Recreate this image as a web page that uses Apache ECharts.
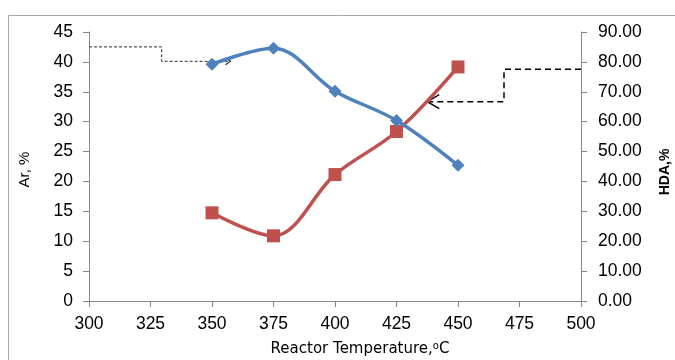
<!DOCTYPE html>
<html><head><meta charset="utf-8">
<script src="https://cdn.jsdelivr.net/npm/echarts@6/dist/echarts.min.js"></script>
<style>html,body{margin:0;padding:0;background:#fff}#c{width:675px;height:360px}</style>
</head><body><div id="c"></div>
<script>
// Data
const temperatures = [350, 375, 400, 425, 450];
const arValues = [39.6, 42.3, 35.1, 30.2, 22.7];
const hdaValues = [29.5, 21.8, 42.3, 56.7, 78.3];
const xTicks = [300, 325, 350, 375, 400, 425, 450, 475, 500];
// Annotation arrows (data coordinates)
const arArrowPath = [[300, 42.5], [329.5, 42.5], [329.5, 40.1], [357.5, 40.1]];
const hdaArrowPath = [[500, 77.5], [468.7, 77.5], [468.7, 66.7], [438.5, 66.7]];
const hdaArrowTip = [437.5, 66.7];

const chart = echarts.init(document.getElementById('c'), null, {renderer: 'canvas'});
const pair = (xs, ys) => xs.map((x, i) => [x, ys[i]]);
const axisCol = '#868686';
const labelFont = {fontFamily: 'Liberation Sans', fontSize: 17.5, color: '#000'};

function arrowHead(yAxisIndex, tip, dir, w, h, color, lw) {
  return {
    type: 'custom', yAxisIndex: yAxisIndex, data: [tip], z: 1, silent: true,
    renderItem: function (params, api) {
      const p = api.coord([api.value(0), api.value(1)]);
      return {
        type: 'polyline',
        shape: {points: [[p[0] + dir * w, p[1] - h], [p[0], p[1]], [p[0] + dir * w, p[1] + h]]},
        style: {stroke: color, lineWidth: lw, fill: 'none'}
      };
    }
  };
}

chart.setOption({
  animation: false,
  graphic: [{
    type: 'rect', shape: {x: 8.5, y: 15.5, width: 700, height: 400},
    style: {fill: 'none', stroke: '#a6a6a6', lineWidth: 1}, silent: true
  }],
  grid: {left: 89, right: 94, top: 32, bottom: 59, outerBoundsMode: 'none', containLabel: false},
  xAxis: {
    type: 'value', min: 300, max: 500, interval: 25,
    name: 'Reactor Temperature,{sup|o}C', nameLocation: 'middle', nameGap: 40,
    nameTextStyle: {fontFamily: 'DejaVu Sans', fontSize: 15, color: '#000', padding: [0, 0, 0, 50],
      rich: {sup: {fontFamily: 'DejaVu Sans', fontSize: 10, verticalAlign: 'top', padding: [0, 0, 7, 0]}}},
    axisLine: {lineStyle: {color: axisCol}}, axisTick: {show: true, length: 6, lineStyle: {color: axisCol}},
    splitLine: {show: false},
    axisLabel: Object.assign({margin: 14, formatter: v => xTicks.includes(v) ? String(v) : ''}, labelFont)
  },
  yAxis: [{
    type: 'value', min: 0, max: 45, interval: 5, position: 'left',
    name: 'Ar, %', nameLocation: 'middle', nameGap: 57, nameRotate: 90,
    nameTextStyle: {fontFamily: 'Liberation Sans', fontSize: 15, color: '#000', padding: [0, 6, 0, 0]},
    axisLine: {show: true, lineStyle: {color: axisCol}}, axisTick: {show: true, length: 6, lineStyle: {color: axisCol}},
    splitLine: {show: false},
    axisLabel: Object.assign({margin: 16}, labelFont)
  }, {
    type: 'value', min: 0, max: 90, interval: 10, position: 'right',
    name: 'HDA,%', nameLocation: 'middle', nameGap: 77, nameRotate: 90,
    nameTextStyle: {fontFamily: 'Liberation Sans', fontSize: 14, fontWeight: 'bold', color: '#000', padding: [0, 11, 0, 0]},
    axisLine: {show: true, lineStyle: {color: axisCol}}, axisTick: {show: true, length: 6, lineStyle: {color: axisCol}},
    splitLine: {show: false},
    axisLabel: Object.assign({margin: 17, formatter: v => v.toFixed(2)}, labelFont)
  }],
  series: [
    {
      type: 'line', yAxisIndex: 0, data: arArrowPath, symbol: 'none', z: 1,
      lineStyle: {color: '#555', width: 1.3, type: [3, 2]}
    },
    arrowHead(0, arArrowPath[arArrowPath.length - 1], -1, 5, 3.5, '#333', 1.2),
    {
      type: 'line', yAxisIndex: 1, data: hdaArrowPath, symbol: 'none', z: 1,
      lineStyle: {color: '#000', width: 1.5, type: [6, 4]}
    },
    arrowHead(1, hdaArrowTip, 1, 12, 7, '#000', 1.4),
    {
      name: 'Ar', type: 'line', yAxisIndex: 0, data: pair(temperatures, arValues), smooth: 0.35,
      symbol: 'diamond', symbolSize: 13, z: 3,
      lineStyle: {color: '#4F81BD', width: 3.5}, itemStyle: {color: '#4F81BD'}
    },
    {
      name: 'HDA', type: 'line', yAxisIndex: 1, data: pair(temperatures, hdaValues), smooth: 0.35,
      symbol: 'rect', symbolSize: 13, z: 2,
      lineStyle: {color: '#C0504D', width: 3.5}, itemStyle: {color: '#C0504D'}
    }
  ]
});
</script></body></html>
